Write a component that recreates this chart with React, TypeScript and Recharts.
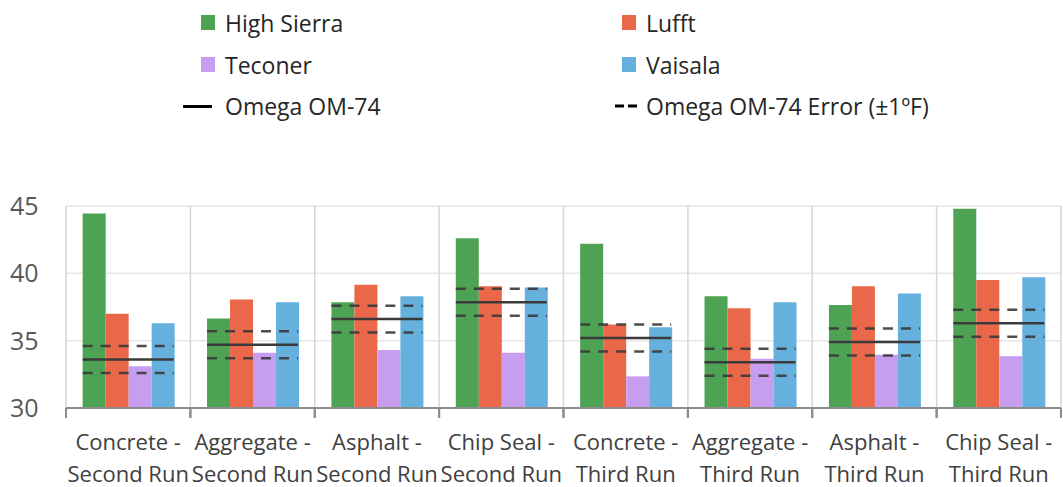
import React from "react";
import { BarChart, Bar, XAxis, YAxis, CartesianGrid } from "recharts";

const categories = [
  "Concrete - Second Run",
  "Aggregate - Second Run",
  "Asphalt - Second Run",
  "Chip Seal - Second Run",
  "Concrete - Third Run",
  "Aggregate - Third Run",
  "Asphalt - Third Run",
  "Chip Seal - Third Run",
];
const highSierra = [44.45, 36.65, 37.85, 42.6, 42.2, 38.3, 37.65, 44.8];
const lufft = [37.0, 38.05, 39.15, 39.05, 36.2, 37.4, 39.05, 39.5];
const teconer = [33.1, 34.1, 34.3, 34.1, 32.35, 33.65, 33.95, 33.85];
const vaisala = [36.3, 37.85, 38.3, 38.95, 36.0, 37.85, 38.5, 39.7];
const omega = [33.6, 34.7, 36.6, 37.85, 35.2, 33.4, 34.9, 36.3];
const omegaError = 1;
const yTicks = [30, 35, 40, 45];

const COLORS = {
  highSierra: "#4EA254",
  lufft: "#EA6849",
  teconer: "#C69DEF",
  vaisala: "#66B0DD",
  line: "#3a3a3a",
};

const FONT = "'Open Sans', 'Noto Sans', sans-serif";

const data = categories.map((cat, i) => ({
  cat,
  highSierra: highSierra[i],
  lufft: lufft[i],
  teconer: teconer[i],
  vaisala: vaisala[i],
  omegaRange: [omega[i] - omegaError, omega[i] + omegaError],
}));

const OmegaShape = (props: any) => {
  const { x, y, width, height } = props;
  const top = Math.min(y, y + height);
  const bottom = Math.max(y, y + height);
  const mid = (top + bottom) / 2;
  return (
    <g>
      <line x1={x} x2={x + width} y1={top} y2={top} stroke={COLORS.line} strokeOpacity={0.9} strokeWidth={2.5} strokeDasharray="10 8" />
      <line x1={x} x2={x + width} y1={mid} y2={mid} stroke={COLORS.line} strokeWidth={2.5} />
      <line x1={x} x2={x + width} y1={bottom} y2={bottom} stroke={COLORS.line} strokeOpacity={0.9} strokeWidth={2.5} strokeDasharray="10 8" />
    </g>
  );
};

const XTick = (props: any) => {
  const { x, y, payload } = props;
  const value: string = payload.value;
  const idx = value.indexOf(" - ");
  const line1 = value.slice(0, idx) + " -";
  const line2 = value.slice(idx + 3);
  const off = payload.offset ?? 0;
  const axisY = y - 8;
  return (
    <g>
      <line x1={x - off} x2={x - off} y1={axisY} y2={axisY + 10} stroke="#8c8c8c" strokeWidth={2} />
      <line x1={x + off} x2={x + off} y1={axisY} y2={axisY + 10} stroke="#8c8c8c" strokeWidth={2} />
      <text x={x} y={y + 34} textAnchor="middle" fontFamily={FONT} fontSize={22} fill="#404040">
        {line1}
      </text>
      <text x={x} y={y + 66} textAnchor="middle" fontFamily={FONT} fontSize={22} fill="#404040">
        {line2}
      </text>
    </g>
  );
};

const legendItems = [
  { label: "High Sierra", kind: "box", color: COLORS.highSierra, col: 0, row: 0 },
  { label: "Lufft", kind: "box", color: COLORS.lufft, col: 1, row: 0 },
  { label: "Teconer", kind: "box", color: COLORS.teconer, col: 0, row: 1 },
  { label: "Vaisala", kind: "box", color: COLORS.vaisala, col: 1, row: 1 },
  { label: "Omega OM-74", kind: "line", color: "#000", col: 0, row: 2 },
  { label: "Omega OM-74 Error (±1ºF)", kind: "dash", color: "#000", col: 1, row: 2 },
];

const Legend = () => {
  const colX = [225, 646];
  const rowY = [23, 65, 106];
  return (
    <div style={{ position: "absolute", left: 0, top: 0, width: 1063, height: 130 }}>
      {legendItems.map((it) => {
        const tx = colX[it.col];
        const cy = rowY[it.row];
        let marker: React.ReactNode = null;
        if (it.kind === "box") {
          marker = (
            <div style={{ position: "absolute", left: tx - 24, top: cy - 8, width: 14, height: 15, background: it.color }} />
          );
        } else if (it.kind === "line") {
          marker = (
            <div style={{ position: "absolute", left: tx - 42, top: cy - 1.5, width: 29, height: 3, background: it.color }} />
          );
        } else {
          marker = (
            <svg style={{ position: "absolute", left: tx - 31, top: cy - 2 }} width={24} height={4}>
              <line x1={0} x2={24} y1={2} y2={2} stroke="#000" strokeWidth={3} strokeDasharray="9 4" />
            </svg>
          );
        }
        return (
          <React.Fragment key={it.label}>
            {marker}
            <div
              style={{
                position: "absolute",
                left: tx,
                top: cy - 17,
                height: 34,
                lineHeight: "34px",
                fontFamily: FONT,
                fontSize: 23,
                color: "#262626",
                whiteSpace: "nowrap",
              }}
            >
              {it.label}
            </div>
          </React.Fragment>
        );
      })}
    </div>
  );
};

export default function App() {
  const n = categories.length;
  return (
    <div style={{ position: "absolute", left: 0, top: 0, width: 1063, height: 487, background: "#fff" }}>
      <Legend />
      <BarChart
        width={1063}
        height={487}
        data={data}
        margin={{ top: 206, right: 2, left: 0, bottom: 0 }}
        barCategoryGap="13.4%"
        barGap={0}
      >
        <CartesianGrid vertical={false} stroke="#e6e6e6" strokeWidth={1.5} />
        <CartesianGrid
          horizontal={false}
          stroke="#d6d6d6"
          strokeWidth={1.5}
          verticalCoordinatesGenerator={({ offset }: any) =>
            Array.from({ length: n + 1 }, (_, i) => offset.left + (i * offset.width) / n)
          }
        />
        <YAxis
          domain={[30, 45]}
          ticks={yTicks}
          width={66}
          axisLine={false}
          tickLine={false}
          tickMargin={21.5}
          tick={{ fontFamily: FONT, fontSize: 25, fill: "#595959" }}
          interval={0}
        />
        <XAxis
          dataKey="cat"
          height={79}
          interval={0}
          axisLine={{ stroke: "#8c8c8c", strokeWidth: 2 }}
          tickLine={false}
          tick={<XTick />}
        />
        <XAxis xAxisId="omega" dataKey="cat" hide />
        <Bar dataKey="highSierra" fill={COLORS.highSierra} isAnimationActive={false} />
        <Bar dataKey="lufft" fill={COLORS.lufft} isAnimationActive={false} />
        <Bar dataKey="teconer" fill={COLORS.teconer} isAnimationActive={false} />
        <Bar dataKey="vaisala" fill={COLORS.vaisala} isAnimationActive={false} />
        <Bar xAxisId="omega" dataKey="omegaRange" shape={<OmegaShape />} isAnimationActive={false} />
      </BarChart>
    </div>
  );
}
